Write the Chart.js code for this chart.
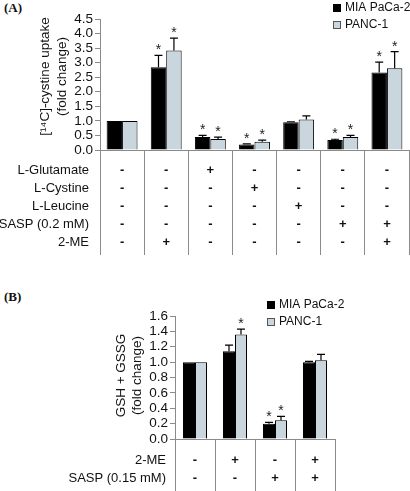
<!DOCTYPE html>
<html>
<head>
<meta charset="utf-8">
<script src="https://cdn.jsdelivr.net/npm/chart.js@4.4.1/dist/chart.umd.min.js"></script>
<style>
  body { margin: 0; background: #fff; width: 410px; height: 491px; overflow: hidden; position: relative; }
  canvas { position: absolute; left: 0; }
  #chartA { top: 0; }
  #chartB { top: 280px; }
  .tag { position: absolute; left: 4px; font: bold 13px "Liberation Serif", serif; color: #111; }
</style>
</head>
<body>
<div class="tag" style="top:0px">(A)</div>
<div class="tag" style="top:289px">(B)</div>
<canvas id="chartA" width="410" height="262"></canvas>
<canvas id="chartB" width="410" height="211"></canvas>
<script>
// ---- data ----
const seriesNames = ['MIA PaCa-2', 'PANC-1'];

// panel A: [14C]-cystine uptake
const rowsA = ['L-Glutamate', 'L-Cystine', 'L-Leucine', 'SASP (0.2 mM)', '2-ME'];
const glutamateA = ['-', '-', '+', '-', '-', '-', '-'];
const cystineA   = ['-', '-', '-', '+', '-', '-', '-'];
const leucineA   = ['-', '-', '-', '-', '+', '-', '-'];
const saspA      = ['-', '-', '-', '-', '-', '+', '+'];
const meA        = ['-', '+', '-', '-', '-', '-', '+'];
const miaA     = [1.0, 2.84, 0.45, 0.19, 0.95, 0.34, 2.66];
const pancA    = [1.0, 3.42, 0.38, 0.28, 1.05, 0.45, 2.81];
const miaErrA  = [0, 0.41, 0.05, 0.02, 0.02, 0.03, 0.36];
const pancErrA = [0, 0.42, 0.06, 0.06, 0.12, 0.05, 0.57];
const miaSigA  = [false, true, true, true, false, true, true];
const pancSigA = [false, true, true, true, false, true, true];
const yMaxA = 4.5, yStepA = 0.5;

// panel B: GSH + GSSG
const rowsB = ['2-ME', 'SASP (0.15 mM)'];
const meB   = ['-', '+', '-', '+'];
const saspB = ['-', '-', '+', '+'];
const miaB     = [1.0, 1.14, 0.20, 1.0];
const pancB    = [1.0, 1.36, 0.245, 1.025];
const miaErrB  = [0, 0.08, 0.015, 0.01];
const pancErrB = [0, 0.07, 0.05, 0.075];
const miaSigB  = [false, false, true, false];
const pancSigB = [false, true, true, false];
const yMaxB = 1.6, yStepB = 0.2;

const colMia = '#000000', colPanc = '#c9d6de';
const FONT = '"Liberation Sans", Arial, sans-serif';
const AXIS = '#8a8a8a';

// columns of +/- signs become multi-line x tick labels
function columns(rows) {
  return rows[0].map((_, i) => rows.map(r => r[i]));
}

const errorBars = {
  id: 'errorBars',
  afterDatasetsDraw(chart) {
    const { ctx } = chart;
    const ys = chart.scales.y;
    ctx.save();
    chart.data.datasets.forEach((ds, di) => {
      const meta = chart.getDatasetMeta(di);
      meta.data.forEach((bar, i) => {
        const top = ys.getPixelForValue(ds.data[i] + ds.err[i]);
        if (ds.err[i] > 0) {
          ctx.strokeStyle = '#000'; ctx.lineWidth = 1.2;
          ctx.beginPath();
          ctx.moveTo(bar.x, bar.y); ctx.lineTo(bar.x, top);
          ctx.moveTo(bar.x - 4, top); ctx.lineTo(bar.x + 4, top);
          ctx.stroke();
        }
        if (ds.sig[i]) {
          ctx.fillStyle = '#222';
          ctx.font = '14px ' + FONT;
          ctx.textAlign = 'center'; ctx.textBaseline = 'alphabetic';
          ctx.fillText('*', bar.x, top - 1);
        }
      });
    });
    ctx.restore();
  }
};

const extras = {
  id: 'extras',
  afterDraw(chart, args, o) {
    const { ctx, chartArea } = chart;
    ctx.save();
    ctx.fillStyle = '#111';
    // y title
    ctx.font = o.titleSize + 'px ' + FONT;
    ctx.textAlign = 'center'; ctx.textBaseline = 'middle';
    ctx.translate(o.titleX, (chartArea.top + chartArea.bottom) / 2 + o.titleShift);
    ctx.rotate(-Math.PI / 2);
    o.title.forEach((t, i) => ctx.fillText(t, 0, i * o.titleGap));
    ctx.setTransform(1, 0, 0, 1, 0, 0);
    // row labels of the treatment table
    const xs = chart.scales.x, xo = xs.options;
    const lh = xo.ticks.font.size * xo.ticks.font.lineHeight;
    const y0 = xs.top + xo.grid.tickLength + xo.ticks.padding;
    ctx.font = o.rowSize + 'px ' + FONT;
    ctx.textAlign = 'right';
    o.rows.forEach((r, i) => ctx.fillText(r, chartArea.left - o.rowGap, y0 + lh * (i + 0.5)));
    // legend
    ctx.font = o.legendSize + 'px ' + FONT;
    ctx.textAlign = 'left';
    chart.data.datasets.forEach((ds, i) => {
      const y = o.legendY + i * o.legendStep;
      ctx.fillStyle = ds.backgroundColor;
      ctx.fillRect(o.legendX, y - 4, 8, 8);
      ctx.strokeStyle = i ? '#555' : '#000'; ctx.lineWidth = 1;
      ctx.strokeRect(o.legendX + 0.5, y - 3.5, 7, 7);
      ctx.fillStyle = '#111';
      ctx.fillText(ds.label, o.legendX + 12, y);
    });
    ctx.restore();
  }
};

function makeChart(id, cfg) {
  return new Chart(document.getElementById(id), {
    type: 'bar',
    data: {
      labels: cfg.labels,
      datasets: [
        { label: seriesNames[0], data: cfg.mia, err: cfg.miaErr, sig: cfg.miaSig, backgroundColor: colMia },
        { label: seriesNames[1], data: cfg.panc, err: cfg.pancErr, sig: cfg.pancSig, backgroundColor: colPanc }
      ]
    },
    options: {
      responsive: false, animation: false,
      layout: { padding: { top: cfg.top, right: cfg.right, left: 0, bottom: 0 } },
      datasets: { bar: { borderColor: '#000', borderWidth: 1, barPercentage: 1, categoryPercentage: cfg.catPct } },
      plugins: {
        legend: { display: false }, tooltip: { enabled: false },
        extras: cfg.extras
      },
      scales: {
        x: {
          afterFit: s => { s.height = cfg.xHeight; },
          border: { display: true, color: AXIS, width: 1 },
          grid: { offset: true, drawOnChartArea: false, drawTicks: true, tickLength: cfg.tickLen, color: AXIS },
          ticks: { padding: cfg.tickPad, color: '#111', maxRotation: 0, autoSkip: false,
                   font: { family: FONT, size: 13, weight: 'bold', lineHeight: cfg.lineH / 13 } }
        },
        y: {
          min: 0, max: cfg.yMax,
          afterFit: s => { s.width = cfg.left; },
          border: { display: true, color: AXIS, width: 1 },
          grid: { drawOnChartArea: false, tickLength: 5, color: AXIS },
          ticks: { stepSize: cfg.yStep, autoSkip: false, padding: 2, color: '#111', font: { family: FONT, size: 13.5 },
                   callback: v => v.toFixed(1) }
        }
      }
    },
    plugins: [errorBars, extras]
  });
}

makeChart('chartA', {
  labels: columns([glutamateA, cystineA, leucineA, saspA, meA]),
  mia: miaA, panc: pancA, miaErr: miaErrA, pancErr: pancErrA, miaSig: miaSigA, pancSig: pancSigA,
  yMax: yMaxA, yStep: yStepA, top: 19, right: 1, left: 100, xHeight: 112,
  tickLen: 105, tickPad: -94, lineH: 18, catPct: 0.7,
  extras: { title: ['[\u00B9\u2074C]-cystine uptake', '(fold change)'], titleX: 45, titleShift: -8, titleGap: 17, titleSize: 13.5,
            rows: rowsA, rowGap: 11, rowSize: 13,
            legendX: 333, legendY: 8, legendStep: 17, legendSize: 12 }
});

makeChart('chartB', {
  labels: columns([meB, saspB]),
  mia: miaB, panc: pancB, miaErr: miaErrB, pancErr: pancErrB, miaSig: miaSigB, pancSig: pancSigB,
  yMax: yMaxB, yStep: yStepB, top: 36, right: 75, left: 175, xHeight: 52,
  tickLen: 60, tickPad: -47, lineH: 17.5, catPct: 0.6,
  extras: { title: ['GSH + GSSG', '(fold change)'], titleX: 121, titleShift: -2, titleGap: 16, titleSize: 13.5,
            rows: rowsB, rowGap: 9, rowSize: 13,
            legendX: 267, legendY: 25, legendStep: 17, legendSize: 12 }
});
</script>
</body>
</html>
